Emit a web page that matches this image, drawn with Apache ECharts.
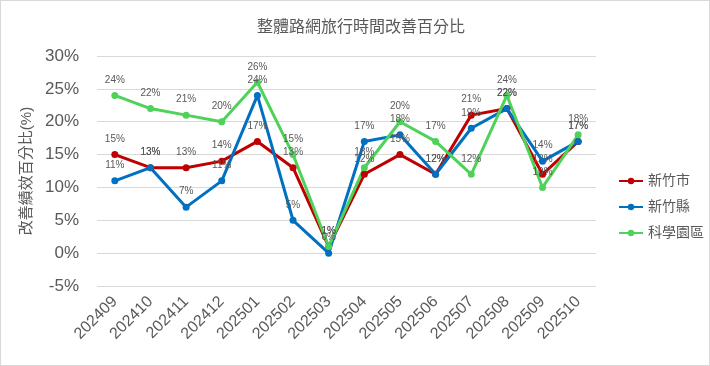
<!DOCTYPE html>
<html>
<head>
<meta charset="utf-8">
<script src="https://cdn.jsdelivr.net/npm/echarts@6/dist/echarts.min.js"></script>
<style>
    html, body { margin: 0; padding: 0; background: #fff; }
    #chart { width: 708px; height: 364px; border: 1px solid #d9d9d9; }
</style>
</head>
<body>
<div id="chart"></div>
<script>
const months = ['202409', '202410', '202411', '202412', '202501', '202502', '202503',
    '202504', '202505', '202506', '202507', '202508', '202509', '202510'];
const hsinchuCity = [15, 13, 13, 14, 17, 13, 1, 12, 15, 12, 21, 22, 12, 17];
const hsinchuCounty = [11, 13, 7, 11, 24, 5, 0, 17, 18, 12, 19, 22, 14, 17];
const sciencePark = [24, 22, 21, 20, 26, 15, 1, 13, 20, 17, 12, 24, 10, 18];

const textColor = '#595959';
const fontFamily = '"Liberation Sans", Arial, "Noto Sans CJK TC", sans-serif';

const makeSeries = (name, data, color) => ({
    name,
    type: 'line',
    data,
    symbol: 'circle',
    symbolSize: 7,
    lineStyle: { width: 3, color },
    itemStyle: { color },
    label: {
        show: true,
        position: 'top',
        distance: 7,
        color: textColor,
        fontSize: 10,
        fontFamily,
        formatter: (p) => p.value + '%',
    },
});

const chart = echarts.init(document.getElementById('chart'));
chart.setOption({
    animation: false,
    textStyle: { fontFamily },
    title: {
        text: '整體路網旅行時間改善百分比',
        left: 355,
        top: 14,
        textAlign: 'center',
        textStyle: { color: textColor, fontSize: 16, fontWeight: 'normal', fontFamily },
    },
    grid: { left: 96, right: 113, top: 55, bottom: 79 },
    legend: {
        orient: 'vertical',
        left: 612,
        top: 168,
        itemGap: 12,
        itemWidth: 24,
        itemHeight: 8,
        textStyle: { color: textColor, fontSize: 14, fontFamily },
        data: ['新竹市', '新竹縣', '科學園區'],
    },
    xAxis: {
        type: 'category',
        data: months,
        axisLine: { show: false },
        axisTick: { show: false },
        axisLabel: { rotate: 45, color: textColor, fontSize: 16, margin: 13, interval: 0 },
    },
    yAxis: {
        type: 'value',
        min: -5,
        max: 30,
        interval: 5,
        name: '改善績效百分比(%)',
        nameLocation: 'middle',
        nameGap: 52,
        nameTextStyle: { color: textColor, fontSize: 15 },
        axisLabel: { color: textColor, fontSize: 17, formatter: '{value}%', margin: 18 },
        splitLine: { lineStyle: { color: '#d9d9d9', width: 1 } },
    },
    series: [
        makeSeries('新竹市', hsinchuCity, '#c00000'),
        makeSeries('新竹縣', hsinchuCounty, '#0070c0'),
        makeSeries('科學園區', sciencePark, '#4fd25a'),
    ],
});
</script>
</body>
</html>
